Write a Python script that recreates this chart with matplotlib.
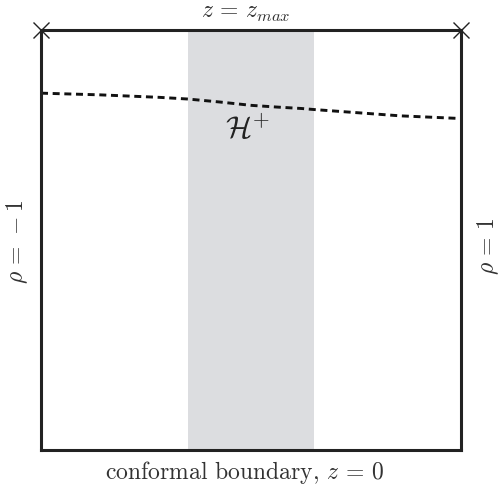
import matplotlib
matplotlib.use('Agg')
import matplotlib.pyplot as plt

plt.rcParams['font.family'] = 'serif'
plt.rcParams['font.serif'] = ['cmr10']
plt.rcParams['mathtext.fontset'] = 'cm'
plt.rcParams['axes.unicode_minus'] = False

# horizon curve (rho, z/zmax)
rho_h = [-1.0, -0.72, -0.435, -0.3, -0.15, 0.0, 0.12, 0.24, 0.3, 0.71, 0.98]
z_h = [0.85, 0.846, 0.840, 0.836, 0.829, 0.821, 0.817, 0.8135, 0.811, 0.796, 0.790]
band = [-0.3, 0.3]
corners_x = [-1, 1]
corners_y = [1, 1]

fig = plt.figure(figsize=(5, 4.87), dpi=100)
ax = fig.add_axes([0.082, 0.076, 0.84, 0.862])
ax.set_xlim(-1, 1)
ax.set_ylim(0, 1)
ax.set_xticks([]); ax.set_yticks([])
for s in ax.spines.values():
    s.set_linewidth(2.2)
    s.set_color('#222222')

ax.axvspan(band[0], band[1], color='#dcdde0', lw=0, zorder=0)
ax.plot(rho_h, z_h, color='#111111', lw=2.1, dashes=(2.4, 1.6))
ax.plot(corners_x, corners_y, 'x', color='#222222', ms=11, mew=1.0, clip_on=False)

ax.text(0.487, 1.015, r'$z\,=\,z_{max}$', transform=ax.transAxes, ha='center', va='bottom', fontsize=17, color='#333333')
ax.text(0.485, -0.022, r'conformal boundary, $z\,=\,0$', transform=ax.transAxes, ha='center', va='top', fontsize=17, color='#333333')
ax.text(-0.025, 0.495, r'$\rho\,=\,-1$', transform=ax.transAxes, ha='right', va='center', rotation=90, fontsize=17, color='#333333')
ax.text(1.035, 0.485, r'$\rho\,=\,1$', transform=ax.transAxes, ha='left', va='center', rotation=90, fontsize=17, color='#333333')
ax.text(-0.02, 0.765, r'$\mathcal{H}^{+}$', ha='center', va='center', fontsize=22, color='#222222')

fig.savefig('out.png', dpi=100)
